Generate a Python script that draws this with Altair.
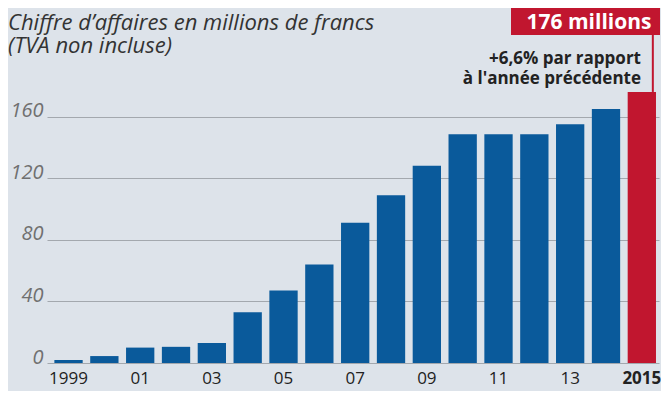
import altair as alt
import pandas as pd

years = [str(y) for y in range(1999, 2016)]
values = [2, 4.5, 10, 10.5, 13, 33, 47, 64, 91, 109, 128, 148.5, 148.5, 148.5, 155, 165, 176]
highlight = ["autre"] * 16 + ["2015"]

y_ticks = [0, 40, 80, 120, 160]
title_text = "Chiffre d’affaires en millions de francs\n(TVA non incluse)"
badge_text = "176 millions"
note_text = "+6,6% par rapport\nà l'année précédente"

df = pd.DataFrame({"annee": years, "ca": values, "groupe": highlight})

W, H = 612, 355
BG = "#dde3ea"
FONT = "Open Sans"

x_enc = alt.X(
    "annee:O",
    title=None,
    scale=alt.Scale(paddingInner=0.21, paddingOuter=0.145, align=0.71),
    axis=alt.Axis(
        labelAngle=0,
        domain=False,
        ticks=False,
        labelPadding=7,
        labelFontSize=17,
        labelFont=FONT,
        labelColor="#222222",
        labelOverlap=False,
        labelExpr="datum.value == '1999' || datum.value == '2015' ? datum.value : (toNumber(datum.value) % 2 == 1 ? substring(datum.value, 2, 4) : '')",
        labelFontWeight={"condition": {"test": "datum.value == '2015'", "value": "bold"}, "value": "normal"},
    ),
)

y_enc = alt.Y(
    "ca:Q",
    title=None,
    scale=alt.Scale(domain=[0, 230.5], nice=False),
    axis=alt.Axis(
        values=y_ticks,
        grid=True,
        gridColor="#a3a8ae",
        gridWidth=1.2,
        domain=False,
        ticks=False,
        labelFontSize=20,
        labelFont=FONT,
        labelFontStyle="italic",
        labelColor="#707070",
        labelBaseline="alphabetic",
        labelPadding=4,
    ),
)

bars = alt.Chart(df).mark_bar().encode(
    x=x_enc,
    y=y_enc,
    color=alt.Color(
        "groupe:N",
        scale=alt.Scale(domain=["autre", "2015"], range=["#0a5a9b", "#c1162f"]),
        legend=None,
    ),
)

last = df[df["annee"] == "2015"]
connector = alt.Chart(last).mark_rule(color="#c1162f", strokeWidth=2, xOffset=11).encode(
    x=alt.X("annee:O"),
    y=alt.Y("ca:Q"),
    y2=alt.value(26),
)

one = pd.DataFrame({"k": [0]})

title = alt.Chart(one).mark_text(
    align="left", baseline="alphabetic", font=FONT, fontStyle="italic",
    fontSize=22, color="#333333", lineBreak="\n", lineHeight=23,
).encode(x=alt.value(-39), y=alt.value(21.5), text=alt.value(title_text))

badge_box = alt.Chart(one).mark_rect(color="#c1162f").encode(
    x=alt.value(464), x2=alt.value(613), y=alt.value(0), y2=alt.value(27)
)

badge = alt.Chart(one).mark_text(
    align="center", baseline="alphabetic", font=FONT, fontWeight="bold",
    fontSize=21, color="white",
).encode(x=alt.value(542), y=alt.value(21), text=alt.value(badge_text))

note = alt.Chart(one).mark_text(
    align="right", baseline="alphabetic", font=FONT, fontWeight="bold",
    fontSize=17, color="#222222", lineBreak="\n", lineHeight=20,
).encode(x=alt.value(594), y=alt.value(56), text=alt.value(note_text))

chart = alt.layer(bars, connector, title, badge_box, badge, note).properties(
    width=W, height=H, background=BG,
    padding={"left": 0, "top": 0, "right": 0, "bottom": 5},
).configure_view(stroke=None)

chart.save("out.html", embed_options={"renderer": "svg", "actions": False})
